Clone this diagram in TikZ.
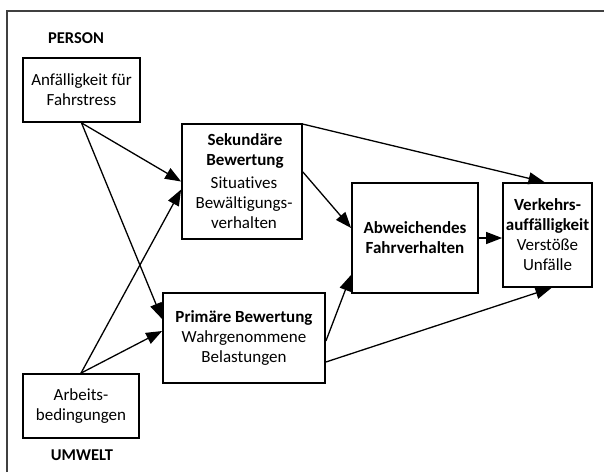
\documentclass[tikz,border=0pt]{standalone}
\usepackage{fontspec}
\setmainfont{Carlito}[Ligatures=NoCommon]
\usetikzlibrary{arrows.meta}
\begin{document}
\begin{tikzpicture}[x=1pt,y=-1pt,
  box/.style={draw=black,line width=1.8pt,align=center,inner sep=0pt,
    font=\fontsize{17}{20}\selectfont},
  lbl/.style={font=\fontsize{16.5}{19}\selectfont\bfseries},
  conn/.style={draw=black,line width=1.3pt,-{Triangle[length=16pt,width=12pt]}},
  frame/.style={draw=black!75,line width=1.2pt}]
\useasboundingbox (0,0) rectangle (604,472);
% outer frame (top and left edge)
\draw[frame] (7,472) -- (7,11) -- (604,11);
% labels
\node[lbl] (person) at (76,38) {PERSON};
\node[lbl] (umwelt) at (82,455) {UMWELT};
% boxes
\node[box,minimum width=117pt,minimum height=64pt] (anf) at (81.5,90)
  {Anfälligkeit für\\Fahrstress};
\node[box,minimum width=116pt,minimum height=64pt] (arb) at (81,406)
  {Arbeits-\\bedingungen};
\node[box,minimum width=120pt,minimum height=115pt] (sek) at (242,181.5)
  {\hspace{6pt}\textbf{Sekundäre}\\\hspace{6pt}\textbf{Bewertung}\\[3pt]\hspace{4pt}Situatives\\\hspace{4pt}Bewältigungs-\\\hspace{4pt}verhalten};
\node[box,minimum width=162pt,minimum height=90pt] (pri) at (244,338)
  {\textbf{Primäre Bewertung}\\Wahrgenommene\\Belastungen};
\node[box,minimum width=126pt,minimum height=110pt] (abw) at (415,238)
  {\textbf{Abweichendes}\\\textbf{Fahrverhalten}};
\node[box,minimum width=89pt,minimum height=104pt] (ver) at (547.5,235)
  {\textbf{Verkehrs-}\\\textbf{auffälligkeit}\\Verstöße\\Unfälle};
% connectors
\draw[conn] (anf.south) -- (sek.west);
\draw[conn] (anf.south) -- ([yshift=19pt]pri.west);
\draw[conn] (arb.north) -- ([yshift=-8pt]sek.west);
\draw[conn] (arb.north) -- ([yshift=7pt]pri.west);
\draw[conn] ([yshift=-1pt]sek.north east) -- ([xshift=-3pt]ver.north);
\draw[conn] ([yshift=9.5pt]sek.east) -- ([yshift=10pt]abw.west);
\draw[conn] ([yshift=-3pt]pri.east) -- ([yshift=19pt]abw.south west);
\draw[conn] ([yshift=-24pt]pri.east) -- ([xshift=4pt]ver.south);
\draw[conn] (abw.east) -- (abw.east -| ver.west);
\end{tikzpicture}
\end{document}
